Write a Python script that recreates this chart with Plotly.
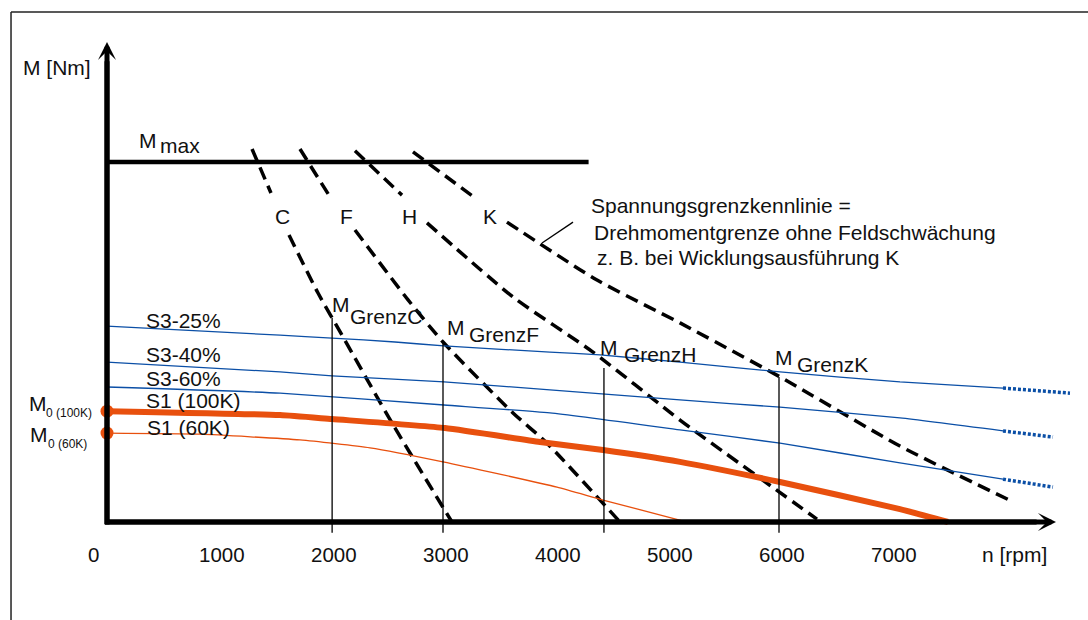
import plotly.graph_objects as go

# ---------------- data (n in rpm, M in relative torque units) ----------------
tick_vals = [0, 1000, 2000, 3000, 4000, 5000, 6000, 7000]
tick_text = ["0", "1000", "2000", "3000", "4000", "5000", "6000", "7000"]

n_mmax = [0, 4300]
m_mmax = [100, 100]

# voltage limit curves (dashed), None = gap for the letter label
n_C = [1295, 1464, None, 1625, 1884, 2098, 2545, 3080]
m_C = [103.6, 91.4, None, 79.7, 63.6, 51.9, 27.5, 0]
n_F = [1723, 1991, None, 2214, 2688, 3000, 3625, 3929, 4580]
m_F = [103.6, 90.3, None, 81.1, 61.7, 50.0, 30.3, 21.9, 0]
n_H = [2214, 2634, None, 2857, 3625, 4339, 5116, 5295, 6339]
m_H = [103.1, 90.8, None, 83.1, 62.5, 47.2, 28.3, 24.2, 0.8]
n_K = [2732, 3286, None, 3571, 4375, 5116, 6009, 7080, 8089]
m_K = [102.8, 90.0, None, 83.3, 67.2, 55.3, 40.3, 21.1, 5.6]
curve_letters = ["C", "F", "H", "K"]

# S3 / S1 characteristic curves
n_s3_25 = [0, 1545, 2009, 2571, 3009, 3955, 4402, 5116, 6009, 7080, 8000]
m_s3_25 = [54.4, 51.9, 51.1, 50.0, 48.9, 47.2, 46.4, 44.4, 41.7, 38.9, 37.2]
n_s3_25_ext = [8000, 8598]
m_s3_25_ext = [37.2, 35.8]

n_s3_40 = [0, 1545, 2009, 3009, 3955, 5116, 6009, 7080, 8000]
m_s3_40 = [44.4, 41.7, 40.6, 38.9, 36.7, 33.9, 31.9, 28.9, 25.3]
n_s3_40_ext = [8000, 8446]
m_s3_40_ext = [25.3, 23.6]

n_s3_60 = [0, 1545, 3009, 3955, 5116, 6009, 7080, 8000]
m_s3_60 = [37.5, 35.8, 32.5, 30.3, 25.6, 21.9, 16.4, 11.9]
n_s3_60_ext = [8000, 8446]
m_s3_60_ext = [11.9, 9.7]

n_s1_100 = [0, 1545, 2009, 3018, 3866, 4429, 5116, 6009, 7080, 7509]
m_s1_100 = [30.8, 29.7, 28.6, 26.1, 22.2, 20.0, 16.7, 11.1, 3.6, 0]

n_s1_60 = [0, 830, 1723, 2348, 3000, 4018, 4429, 5180]
m_s1_60 = [24.7, 24.4, 22.8, 20.6, 16.7, 9.7, 6.1, 0]

# M_Grenz verticals
n_grenz = [2010, 3000, 4437, 6000]
m_grenz = [56.7, 50.3, 42.8, 40.3]
grenz_names = ["GrenzC", "GrenzF", "GrenzH", "GrenzK"]

# leader line of the note
n_leader = [3884, 4161]
m_leader = [77.5, 83.3]

BLUE = "#0B4FA6"
ORANGE = "#E8500E"
BLACK = "#000000"
TXT = "#111111"
FONT = "Liberation Sans, Arial, sans-serif"

X_RANGE = [-955.4, 8758.9]
Y_RANGE = [-27.22, 145.0]

fig = go.Figure()

# dashed voltage limit curves
for nx, my in [(n_C, m_C), (n_F, m_F), (n_H, m_H), (n_K, m_K)]:
    fig.add_trace(go.Scatter(x=nx, y=my, mode="lines", connectgaps=False,
                             line=dict(color=BLACK, width=3.5, dash="13px,7px",
                                       shape="spline", smoothing=0.6),
                             hoverinfo="skip"))

# S3 curves
for nx, my, ex, ey in [(n_s3_25, m_s3_25, n_s3_25_ext, m_s3_25_ext),
                       (n_s3_40, m_s3_40, n_s3_40_ext, m_s3_40_ext),
                       (n_s3_60, m_s3_60, n_s3_60_ext, m_s3_60_ext)]:
    fig.add_trace(go.Scatter(x=nx, y=my, mode="lines",
                             line=dict(color=BLUE, width=1.3, shape="spline", smoothing=0.5),
                             hoverinfo="skip"))
    fig.add_trace(go.Scatter(x=ex, y=ey, mode="lines",
                             line=dict(color=BLUE, width=3.5, dash="3px,2px"),
                             hoverinfo="skip"))

# S1 curves
fig.add_trace(go.Scatter(x=n_s1_60, y=m_s1_60, mode="lines",
                         line=dict(color=ORANGE, width=1.3, shape="spline", smoothing=0.5),
                         hoverinfo="skip"))
fig.add_trace(go.Scatter(x=n_s1_100, y=m_s1_100, mode="lines",
                         line=dict(color=ORANGE, width=6, shape="spline", smoothing=0.5),
                         hoverinfo="skip"))
fig.add_trace(go.Scatter(x=[n_s1_100[0], n_s1_60[0]], y=[m_s1_100[0], m_s1_60[0]],
                         mode="markers", marker=dict(color=ORANGE, size=13),
                         hoverinfo="skip"))

# Mmax
fig.add_trace(go.Scatter(x=n_mmax, y=m_mmax, mode="lines",
                         line=dict(color=BLACK, width=4.5), hoverinfo="skip"))

# M_Grenz vertical lines (extend slightly below axis)
for gx, gy in zip(n_grenz, m_grenz):
    fig.add_trace(go.Scatter(x=[gx, gx], y=[gy, -3], mode="lines",
                             line=dict(color=BLACK, width=1.3), hoverinfo="skip"))

# leader line
fig.add_trace(go.Scatter(x=n_leader, y=m_leader, mode="lines",
                         line=dict(color=BLACK, width=1.3), hoverinfo="skip"))

ann = []


def label(text, x, y, size=21, xanchor="left", xshift=0):
    ann.append(dict(text=text, x=x, y=y, xref="x", yref="y", showarrow=False,
                    xanchor=xanchor, yanchor="middle", xshift=xshift,
                    font=dict(size=size, color=TXT, family=FONT)))


# axes with arrows
ann.append(dict(x=8473, y=0, ax=-30, ay=0, xref="x", yref="y", axref="x", ayref="y",
                text="", showarrow=True, arrowhead=3, arrowsize=0.6, arrowwidth=5,
                arrowcolor=BLACK))
ann.append(dict(x=0, y=133.3, ax=0, ay=-1.0, xref="x", yref="y", axref="x", ayref="y",
                text="", showarrow=True, arrowhead=3, arrowsize=0.6, arrowwidth=5,
                arrowcolor=BLACK))

# tick labels
for v, t in zip(tick_vals, tick_text):
    if v == 0:
        label(t, v, -9.1, size=20.5, xanchor="center", xshift=-14)
    else:
        label(t, v, -9.1, size=20.5, xanchor="center", xshift=3)
label("n [rpm]", 7795, -9.1)
label("M [Nm]", -768, 126.2)

# Mmax
label("M", 268, 105.9)
label("max", 455, 104.5)

# curve letters
for letter, xc in zip(curve_letters, [1563, 2134, 2705, 3420]):
    label(letter, xc, 84.8, xanchor="center")

# note
label("Spannungsgrenzkennlinie =", 4304, 87.9)
label("Drehmomentgrenze ohne Feldschwächung", 4330, 80.4)
label("z. B. bei Wicklungsausführung K", 4357, 73.4)

# curve names
label("S3-25%", 330, 55.9)
label("S3-40%", 330, 46.6)
label("S3-60%", 330, 39.8)
label("S1 (100K)", 330, 33.8)
label("S1 (60K)", 339, 26.2)

# M0 labels
label("M", -714, 32.9)
label("0 (100K)", -562, 30.3, size=12)
label("M", -705, 24.3)
label("0 (60K)", -545, 21.7, size=12)

# M Grenz labels
grenz_M_pos = [(1991, 60.4), (3018, 54.0), (4384, 48.4), (5946, 45.6)]
grenz_sub_pos = [(2152, 57.0), (3214, 52.0), (4598, 46.5), (6143, 43.7)]
for name, (mx, my), (sx, sy) in zip(grenz_names, grenz_M_pos, grenz_sub_pos):
    label("M", mx, my)
    label(name, sx, sy)

# outer frame (top and left edges) and axis bodies
shapes = [
    dict(type="line", xref="x", yref="y", x0=-857, x1=X_RANGE[1], y0=141.7, y1=141.7,
         line=dict(color="#222222", width=1.5)),
    dict(type="line", xref="x", yref="y", x0=-857, x1=-857, y0=Y_RANGE[0], y1=141.7,
         line=dict(color="#222222", width=1.5)),
    dict(type="line", xref="x", yref="y", x0=-18, x1=8300, y0=0, y1=0,
         line=dict(color=BLACK, width=5)),
    dict(type="line", xref="x", yref="y", x0=0, x1=0, y0=-0.7, y1=128,
         line=dict(color=BLACK, width=5)),
]

fig.update_layout(
    width=1088, height=620,
    margin=dict(l=0, r=0, t=0, b=0),
    paper_bgcolor="white", plot_bgcolor="white",
    showlegend=False,
    xaxis=dict(visible=False, range=X_RANGE, fixedrange=True),
    yaxis=dict(visible=False, range=Y_RANGE, fixedrange=True),
    annotations=ann,
    shapes=shapes,
    font=dict(family=FONT),
)

fig.write_html("out.html", config={"displayModeBar": False},
               post_script="document.body.style.margin='0';document.body.style.padding='0';"
                           "document.body.style.overflow='hidden';")
